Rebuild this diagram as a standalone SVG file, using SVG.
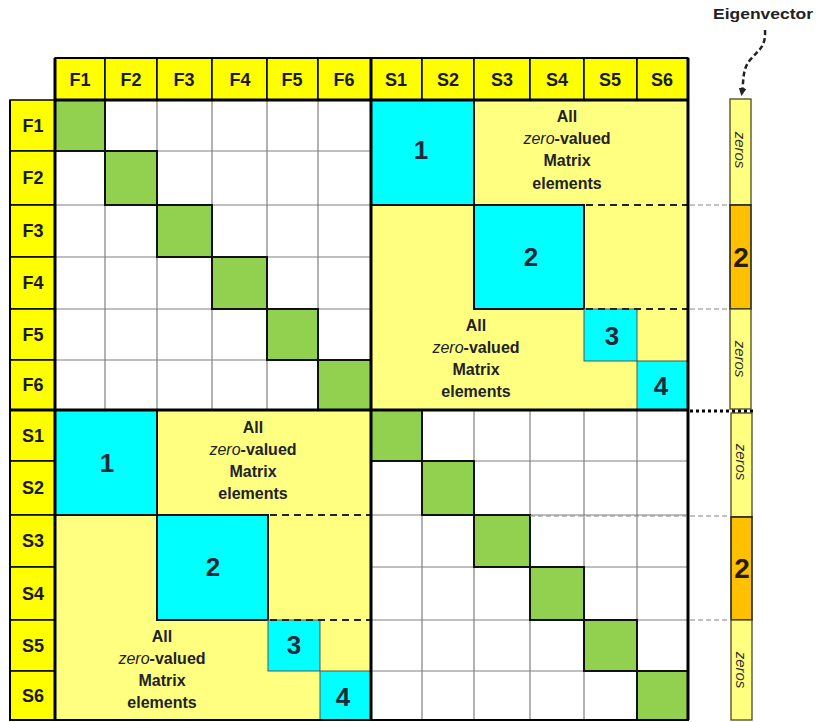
<svg xmlns="http://www.w3.org/2000/svg" width="818" height="722" viewBox="0 0 818 722">
<defs>
<style>
.hdr{fill:#FFFF00;stroke:#000;stroke-width:1.5}
.lbl{font-family:"Liberation Sans",Arial,sans-serif;font-weight:bold;font-size:18px;fill:#1a1a1a;text-anchor:middle}
.grid{stroke:#808080;stroke-width:1.2;fill:none}
.green{fill:#92D050;stroke:#111;stroke-width:2}
.zero{fill:#FFFF80}
.cyanA{fill:#00FFFF;stroke:#111;stroke-width:2}
.cyanB{fill:#00FFFF;stroke:#555;stroke-width:1}
.num{font-family:"Liberation Sans",Arial,sans-serif;font-weight:bold;font-size:26px;fill:#1F2A3A;text-anchor:middle}
.txt{font-family:"Liberation Sans",Arial,sans-serif;font-weight:bold;font-size:16px;fill:#222;text-anchor:middle}
.it{font-style:italic;font-weight:normal}
.thick{stroke:#000;stroke-width:3;fill:none}
.dash{stroke:#222;stroke-width:2;stroke-dasharray:7 5;fill:none}
.gdash{stroke:#888;stroke-width:1.2;stroke-dasharray:5 3;fill:none}
.evz{fill:#FFFF80;stroke:#4a4a20;stroke-width:1.3}
.evo{fill:#FFC000;stroke:#222;stroke-width:1.6}
.zeros{font-family:"Liberation Sans",Arial,sans-serif;font-style:italic;font-size:15px;fill:#333;text-anchor:middle}
.ev2{font-family:"Liberation Sans",Arial,sans-serif;font-weight:bold;font-size:28px;fill:#2a1a00;text-anchor:middle}
</style>
<marker id="arr" markerWidth="8" markerHeight="8" refX="4" refY="4" orient="auto" markerUnits="userSpaceOnUse"><path d="M0,0 L8,4 L0,8 Z" fill="#222"/></marker>
</defs>
<rect width="818" height="722" fill="#fff"/>

<!-- top-left quadrant: F x F -->
<g id="quad-FF">
<path class="grid" d="M105 100V410M157 100V410M212 100V410M267 100V410M318 100V410M55 151H371M55 205H371M55 257H371M55 309H371M55 360H371"/>
<rect class="green" x="55" y="100" width="50" height="51"/>
<rect class="green" x="105" y="151" width="52" height="54"/>
<rect class="green" x="157" y="205" width="55" height="52"/>
<rect class="green" x="212" y="257" width="55" height="52"/>
<rect class="green" x="267" y="309" width="51" height="51"/>
<rect class="green" x="318" y="360" width="53" height="50"/>
</g>

<!-- bottom-right quadrant: S x S -->
<g id="quad-SS">
<path class="grid" d="M422 410V720M474 410V720M530 410V720M584 410V720M637 410V720M371 461H688M371 515H688M371 567H688M371 620H688M371 671H688"/>
<rect class="green" x="371" y="410" width="51" height="51"/>
<rect class="green" x="422" y="461" width="52" height="54"/>
<rect class="green" x="474" y="515" width="56" height="52"/>
<rect class="green" x="530" y="567" width="54" height="53"/>
<rect class="green" x="584" y="620" width="53" height="51"/>
<rect class="green" x="637" y="671" width="51" height="49"/>
</g>

<!-- top-right quadrant: F rows x S cols -->
<g id="quad-FS">
<rect class="zero" x="371" y="100" width="317" height="310"/>
<rect class="cyanA" x="371" y="100" width="103" height="105"/>
<text class="num" x="421" y="159">1</text>
<text class="txt"><tspan x="567" y="122">All</tspan><tspan x="567" y="144"><tspan class="it">zero</tspan>-valued</tspan><tspan x="567" y="166">Matrix</tspan><tspan x="567" y="189">elements</tspan></text>
<rect class="cyanA" x="474" y="205" width="110" height="104"/>
<text class="num" x="531" y="266">2</text>
<rect class="cyanB" x="584" y="309" width="53" height="52"/>
<text class="num" x="612" y="345">3</text>
<rect class="cyanB" x="637" y="361" width="51" height="49"/>
<text class="num" x="661" y="395">4</text>
<text class="txt"><tspan x="476" y="331">All</tspan><tspan x="476" y="353"><tspan class="it">zero</tspan>-valued</tspan><tspan x="476" y="375">Matrix</tspan><tspan x="476" y="397">elements</tspan></text>
<path class="dash" d="M586 205H688M586 309H688"/>
</g>

<!-- bottom-left quadrant: S rows x F cols -->
<g id="quad-SF">
<rect class="zero" x="55" y="410" width="316" height="310"/>
<rect class="cyanA" x="55" y="410" width="102" height="105"/>
<text class="num" x="107" y="472">1</text>
<text class="txt"><tspan x="253" y="433">All</tspan><tspan x="253" y="455"><tspan class="it">zero</tspan>-valued</tspan><tspan x="253" y="477">Matrix</tspan><tspan x="253" y="499">elements</tspan></text>
<rect class="cyanA" x="157" y="515" width="111" height="105"/>
<text class="num" x="213" y="576">2</text>
<rect class="cyanB" x="268" y="620" width="52" height="51"/>
<text class="num" x="294" y="654">3</text>
<rect class="cyanB" x="320" y="671" width="51" height="49"/>
<text class="num" x="343" y="706">4</text>
<text class="txt"><tspan x="162" y="642">All</tspan><tspan x="162" y="664"><tspan class="it">zero</tspan>-valued</tspan><tspan x="162" y="686">Matrix</tspan><tspan x="162" y="708">elements</tspan></text>
<path class="dash" d="M270 515H371M270 620H371"/>
</g>

<!-- column headers -->
<g id="col-headers">
<rect class="hdr" x="55" y="58" width="50" height="42"/>
<rect class="hdr" x="105" y="58" width="52" height="42"/>
<rect class="hdr" x="157" y="58" width="55" height="42"/>
<rect class="hdr" x="212" y="58" width="55" height="42"/>
<rect class="hdr" x="267" y="58" width="51" height="42"/>
<rect class="hdr" x="318" y="58" width="53" height="42"/>
<rect class="hdr" x="371" y="58" width="51" height="42"/>
<rect class="hdr" x="422" y="58" width="52" height="42"/>
<rect class="hdr" x="474" y="58" width="56" height="42"/>
<rect class="hdr" x="530" y="58" width="54" height="42"/>
<rect class="hdr" x="584" y="58" width="53" height="42"/>
<rect class="hdr" x="637" y="58" width="51" height="42"/>
<text class="lbl" x="80" y="86">F1</text>
<text class="lbl" x="131" y="86">F2</text>
<text class="lbl" x="184" y="86">F3</text>
<text class="lbl" x="240" y="86">F4</text>
<text class="lbl" x="292" y="86">F5</text>
<text class="lbl" x="344" y="86">F6</text>
<text class="lbl" x="396" y="86">S1</text>
<text class="lbl" x="448" y="86">S2</text>
<text class="lbl" x="502" y="86">S3</text>
<text class="lbl" x="557" y="86">S4</text>
<text class="lbl" x="610" y="86">S5</text>
<text class="lbl" x="662" y="86">S6</text>
</g>

<!-- row headers -->
<g id="row-headers">
<rect class="hdr" x="10" y="100" width="45" height="51"/>
<rect class="hdr" x="10" y="151" width="45" height="54"/>
<rect class="hdr" x="10" y="205" width="45" height="52"/>
<rect class="hdr" x="10" y="257" width="45" height="52"/>
<rect class="hdr" x="10" y="309" width="45" height="51"/>
<rect class="hdr" x="10" y="360" width="45" height="50"/>
<rect class="hdr" x="10" y="410" width="45" height="51"/>
<rect class="hdr" x="10" y="461" width="45" height="54"/>
<rect class="hdr" x="10" y="515" width="45" height="52"/>
<rect class="hdr" x="10" y="567" width="45" height="53"/>
<rect class="hdr" x="10" y="620" width="45" height="51"/>
<rect class="hdr" x="10" y="671" width="45" height="49"/>
<text class="lbl" x="33" y="132">F1</text>
<text class="lbl" x="33" y="184">F2</text>
<text class="lbl" x="33" y="237">F3</text>
<text class="lbl" x="33" y="289">F4</text>
<text class="lbl" x="33" y="341">F5</text>
<text class="lbl" x="33" y="391">F6</text>
<text class="lbl" x="33" y="442">S1</text>
<text class="lbl" x="33" y="494">S2</text>
<text class="lbl" x="33" y="547">S3</text>
<text class="lbl" x="33" y="600">S4</text>
<text class="lbl" x="33" y="652">S5</text>
<text class="lbl" x="33" y="702">S6</text>
</g>

<!-- heavy outlines -->
<g id="outlines">
<path class="thick" d="M55 58V720M371 58V720M688 58V720M55 100H688M10 410H688"/>
<path stroke="#000" stroke-width="2" fill="none" d="M10 100V720H688M55 58H688"/>
</g>

<!-- eigenvector -->
<g id="eigenvector">
<text x="763" y="19" font-family="Liberation Sans, Arial, sans-serif" font-weight="bold" font-size="14" fill="#222" text-anchor="middle" textLength="100" lengthAdjust="spacingAndGlyphs">Eigenvector</text>
<rect class="evz" x="730" y="99" width="21" height="106"/>
<rect class="evo" x="730" y="205" width="21" height="104"/>
<rect class="evz" x="730" y="309" width="21" height="100"/>
<rect class="evz" x="731" y="413" width="21" height="104"/>
<rect class="evo" x="731" y="517" width="21" height="103"/>
<rect class="evz" x="731" y="620" width="21" height="100"/>
<text class="zeros" transform="translate(740 150) rotate(90)" y="5">zeros</text>
<text class="zeros" transform="translate(740 359) rotate(90)" y="5">zeros</text>
<text class="zeros" transform="translate(741 462) rotate(90)" y="5">zeros</text>
<text class="zeros" transform="translate(741 670) rotate(90)" y="5">zeros</text>
<text class="ev2" x="741" y="267">2</text>
<text class="ev2" x="742" y="578">2</text>
</g>

<!-- connectors -->
<g id="connectors">
<path d="M765 30 C766 48 758 50 750 60 C742 70 744 80 742 92" stroke="#222" stroke-width="2.5" stroke-dasharray="5 3" fill="none" marker-end="url(#arr)"/>
<path class="gdash" d="M690 205H730M690 309H730M690 620H731"/>
<path class="gdash" d="M530 516H731" stroke="#555" stroke-width="1.6"/>
<path d="M690 411H753" stroke="#000" stroke-width="3" stroke-dasharray="3 3" fill="none"/>
</g>
</svg>
